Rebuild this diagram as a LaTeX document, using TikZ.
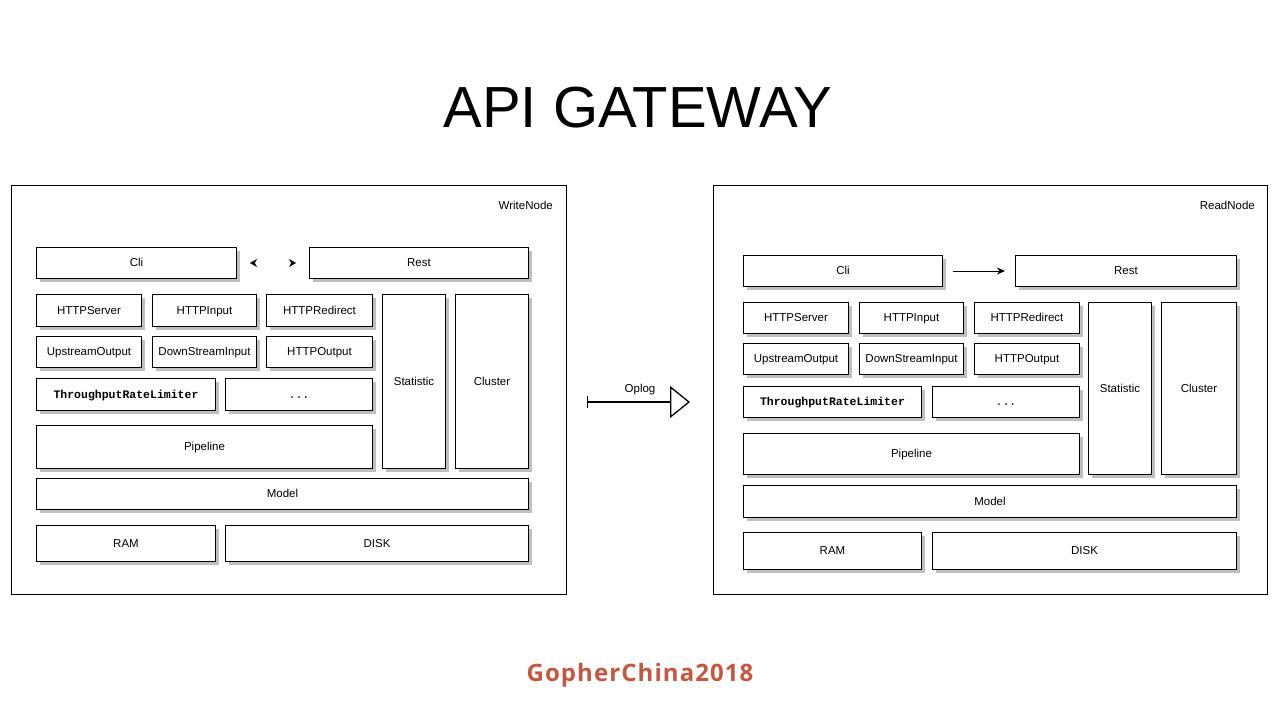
\documentclass[tikz,border=0pt]{standalone}
\usepackage{fontspec}
\setmainfont{Liberation Sans}
\setmonofont{Liberation Mono}
\newfontfamily\gopherfont[LetterSpace=4.5]{Open Sans}
\usetikzlibrary{arrows.meta,shadows,positioning}
\definecolor{gopherred}{RGB}{200,86,62}

\begin{document}
\begin{tikzpicture}[x=1pt, y=-1pt]
    \tikzstyle{line} = [-{Stealth[length=8pt,width=7pt]}, line width=1pt]
    \tikzstyle{frame} = [rectangle, draw=black, line width=1pt, inner sep=0pt]
    \tikzstyle{tag} = [inner sep=0pt, font=\fontsize{11.5}{13}\selectfont]
    \tikzstyle{rec} = [rectangle, draw=black, fill=white, line width=1pt,
        inner sep=0pt, text height=8pt, text depth=1pt,
        font=\fontsize{11.5}{13}\selectfont,
        drop shadow={shadow xshift=3pt, shadow yshift=-3pt, fill=black!25,
        opacity=1}]

    \useasboundingbox (0,0) rectangle (1280,720);

    \node(title) at (638,108) {\fontsize{58}{60}\selectfont API GATEWAY};

    % write node
    \node(wframe) [frame, minimum width=555pt, minimum height=409pt]
        at (11,185) [anchor=north west] {};
    \node(wlabel) [tag, below left=16pt and 14pt of wframe.north east]
        {WriteNode};
    \node(wcli) [rec, minimum width=200pt, minimum height=31pt]
        at (36,247) [anchor=north west] {Cli};
    \node(wrest) [rec, minimum width=219pt, minimum height=31pt]
        at (309,247) [anchor=north west] {Rest};
    \node(wserver) [rec, minimum width=105pt, minimum height=32pt]
        at (36,294) [anchor=north west] {HTTPServer};
    \node(winput) [rec, minimum width=104pt, minimum height=32pt]
        at (152,294) [anchor=north west] {HTTPInput};
    \node(wredirect) [rec, minimum width=106pt, minimum height=32pt]
        at (266,294) [anchor=north west] {HTTPRedirect};
    \node(wupstream) [rec, minimum width=105pt, minimum height=31pt]
        at (36,336) [anchor=north west] {UpstreamOutput};
    \node(wdownstream) [rec, minimum width=104pt, minimum height=31pt]
        at (152,336) [anchor=north west] {DownStreamInput};
    \node(woutput) [rec, minimum width=106pt, minimum height=31pt]
        at (266,336) [anchor=north west] {HTTPOutput};
    \node(wlimiter) [rec, minimum width=179pt, minimum height=32pt]
        at (36,378) [anchor=north west]
        {\ttfamily\bfseries ThroughputRateLimiter};
    \node(wmore) [rec, minimum width=147pt, minimum height=32pt]
        at (225,378) [anchor=north west] {\ttfamily ...};
    \node(wpipeline) [rec, minimum width=336pt, minimum height=43pt]
        at (36,425) [anchor=north west] {Pipeline};
    \node(wstatistic) [rec, minimum width=63pt, minimum height=174pt]
        at (382,294) [anchor=north west] {Statistic};
    \node(wcluster) [rec, minimum width=73pt, minimum height=174pt]
        at (455,294) [anchor=north west] {Cluster};
    \node(wmodel) [rec, minimum width=492pt, minimum height=31pt]
        at (36,478) [anchor=north west] {Model};
    \node(wram) [rec, minimum width=179pt, minimum height=36pt]
        at (36,525) [anchor=north west] {RAM};
    \node(wdisk) [rec, minimum width=303pt, minimum height=36pt]
        at (225,525) [anchor=north west] {DISK};

    % read node
    \node(rframe) [frame, minimum width=554pt, minimum height=409pt]
        at (713,185) [anchor=north west] {};
    \node(rlabel) [tag, below left=16pt and 13pt of rframe.north east]
        {ReadNode};
    \node(rcli) [rec, minimum width=199pt, minimum height=31pt]
        at (743,255) [anchor=north west] {Cli};
    \node(rrest) [rec, minimum width=221pt, minimum height=31pt]
        at (1015,255) [anchor=north west] {Rest};
    \node(rserver) [rec, minimum width=105pt, minimum height=31pt]
        at (743,302) [anchor=north west] {HTTPServer};
    \node(rinput) [rec, minimum width=104pt, minimum height=31pt]
        at (859,302) [anchor=north west] {HTTPInput};
    \node(rredirect) [rec, minimum width=105pt, minimum height=31pt]
        at (974,302) [anchor=north west] {HTTPRedirect};
    \node(rupstream) [rec, minimum width=105pt, minimum height=31pt]
        at (743,343) [anchor=north west] {UpstreamOutput};
    \node(rdownstream) [rec, minimum width=104pt, minimum height=31pt]
        at (859,343) [anchor=north west] {DownStreamInput};
    \node(routput) [rec, minimum width=105pt, minimum height=31pt]
        at (974,343) [anchor=north west] {HTTPOutput};
    \node(rlimiter) [rec, minimum width=178pt, minimum height=31pt]
        at (743,386) [anchor=north west]
        {\ttfamily\bfseries ThroughputRateLimiter};
    \node(rmore) [rec, minimum width=147pt, minimum height=31pt]
        at (932,386) [anchor=north west] {\ttfamily ...};
    \node(rpipeline) [rec, minimum width=336pt, minimum height=41pt]
        at (743,433) [anchor=north west] {Pipeline};
    \node(rstatistic) [rec, minimum width=63pt, minimum height=172pt]
        at (1088,302) [anchor=north west] {Statistic};
    \node(rcluster) [rec, minimum width=75pt, minimum height=172pt]
        at (1161,302) [anchor=north west] {Cluster};
    \node(rmodel) [rec, minimum width=493pt, minimum height=32pt]
        at (743,485) [anchor=north west] {Model};
    \node(rram) [rec, minimum width=178pt, minimum height=37pt]
        at (743,532) [anchor=north west] {RAM};
    \node(rdisk) [rec, minimum width=304pt, minimum height=37pt]
        at (932,532) [anchor=north west] {DISK};

    \node(gopher) at (640,675)
        {\gopherfont\bfseries\fontsize{24}{26}\selectfont\color{gopherred}GopherChina2018};

    \draw[{Stealth[length=7pt,width=8pt,black]}-{Stealth[length=7pt,width=8pt,black]},
        draw=white, shorten <=13pt, shorten >=13pt] (wcli) -- (wrest);
    \draw[line, shorten <=10pt, shorten >=10pt] (rcli) -- (rrest);
    \draw[{Bar[width=12pt]}-{Triangle[open,length=20pt,width=32pt]},
        line width=1.3pt, shorten <=20pt, shorten >=23pt]
        ([yshift=-12pt]wframe.east) -- ([yshift=-12pt]rframe.west)
        node[tag, midway, above=6pt] {Oplog};
\end{tikzpicture}
\end{document}
